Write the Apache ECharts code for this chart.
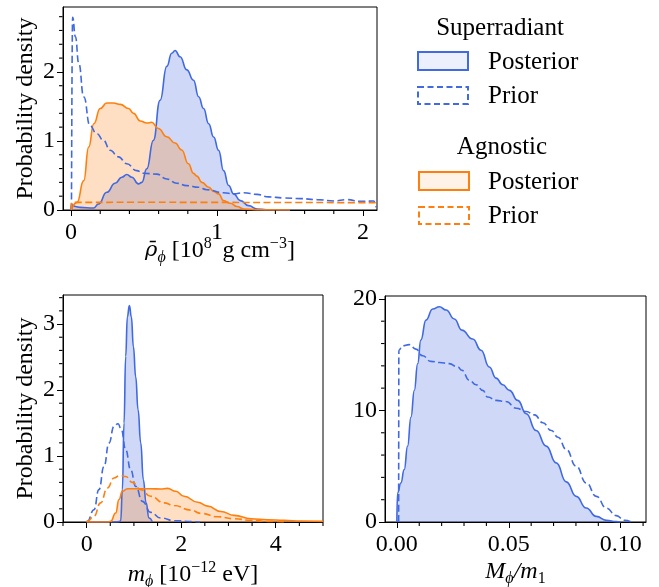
<!DOCTYPE html>
<html><head><meta charset="utf-8">
<script src="https://cdn.jsdelivr.net/npm/echarts@6/dist/echarts.min.js"></script>
<style>html,body{margin:0;padding:0;background:#fff}#c{width:659px;height:587px}</style>
</head><body><div id="c"></div>
<script>
// ---------- data ----------
// Panel 1: rho_phi [1e8 g/cm^3]
const rhoSuperPosterior = [[0.0,0.0],[0.002,0.077],[0.03,0.05],[0.063,0.038],[0.154,0.028],[0.188,0.086],[0.245,0.256],[0.302,0.387],[0.348,0.475],[0.382,0.514],[0.417,0.475],[0.462,0.378],[0.485,0.40],[0.519,0.597],[0.564,1.009],[0.61,1.59],[0.656,2.08],[0.69,2.27],[0.713,2.31],[0.747,2.22],[0.793,2.03],[0.839,1.88],[0.874,1.64],[0.908,1.47],[0.943,1.25],[0.977,1.057],[1.011,0.863],[1.045,0.57],[1.08,0.355],[1.114,0.233],[1.16,0.136],[1.217,0.063],[1.274,0.015],[1.34,0.003],[1.5,0.0]];
const rhoSuperPrior = [[0.003,0.0],[0.011,2.79],[0.03,2.51],[0.053,2.125],[0.087,1.64],[0.13,1.22],[0.176,1.106],[0.222,1.01],[0.268,0.865],[0.325,0.77],[0.382,0.67],[0.45,0.57],[0.496,0.533],[0.587,0.52],[0.656,0.45],[0.724,0.388],[0.793,0.353],[0.873,0.329],[0.931,0.293],[1.045,0.25],[1.114,0.235],[1.183,0.25],[1.274,0.226],[1.354,0.19],[1.457,0.175],[1.571,0.165],[1.685,0.15],[1.8,0.13],[1.89,0.15],[1.982,0.126],[2.073,0.13],[2.09,0.04]];
const rhoAgnPosterior = [[0.002,0.0],[0.041,0.11],[0.087,0.425],[0.121,0.91],[0.156,1.25],[0.2,1.47],[0.245,1.55],[0.291,1.55],[0.337,1.53],[0.394,1.47],[0.428,1.40],[0.474,1.29],[0.519,1.26],[0.553,1.27],[0.598,1.18],[0.656,1.06],[0.713,0.97],[0.758,0.87],[0.804,0.67],[0.839,0.53],[0.862,0.49],[0.897,0.40],[0.943,0.33],[0.977,0.27],[1.011,0.233],[1.045,0.136],[1.091,0.097],[1.137,0.05],[1.183,0.015],[1.27,0.002],[1.5,0.0]];
const rhoAgnPrior = [[0.002,0.0],[0.005,0.11],[0.5,0.112],[1.0,0.11],[1.5,0.108],[2.09,0.106]];

// Panel 2: m_phi [1e-12 eV]
const mSuperPosterior = [[0.0,0.0],[0.6,0.0],[0.69,0.005],[0.72,0.02],[0.756,0.49],[0.791,1.5],[0.826,2.51],[0.862,3.11],[0.904,3.28],[0.946,3.11],[0.989,2.66],[1.038,2.2],[1.088,1.7],[1.144,1.2],[1.2,0.64],[1.257,0.29],[1.32,0.06],[1.39,0.0]];
const mSuperPrior = [[0.0,0.0],[0.014,0.01],[0.155,0.186],[0.26,0.49],[0.367,0.84],[0.473,1.196],[0.579,1.45],[0.664,1.49],[0.734,1.40],[0.826,1.095],[0.932,0.79],[1.038,0.54],[1.18,0.313],[1.356,0.146],[1.568,0.06],[1.85,0.02],[2.28,0.005],[2.4,0.0]];
const mAgnPosterior = [[0.0,0.0],[0.45,0.0],[0.508,0.01],[0.614,0.136],[0.685,0.34],[0.756,0.465],[0.862,0.505],[1.144,0.505],[1.356,0.505],[1.568,0.5],[1.71,0.51],[1.885,0.465],[2.06,0.39],[2.35,0.30],[2.56,0.24],[2.84,0.16],[3.12,0.10],[3.48,0.05],[3.83,0.035],[4.18,0.025],[4.54,0.015],[5.0,0.01]];
const mAgnPrior = [[0.0,0.0],[0.014,0.01],[0.155,0.086],[0.296,0.29],[0.438,0.515],[0.579,0.667],[0.706,0.707],[0.826,0.69],[0.967,0.6],[1.144,0.49],[1.356,0.39],[1.638,0.29],[1.85,0.25],[2.2,0.18],[2.42,0.13],[2.77,0.08],[3.12,0.05],[3.48,0.025],[3.83,0.01],[4.2,0.0]];

// Panel 3: M_phi / m_1
const ratioSuperPosterior = [[0.0,0.0],[0.0003,2.6],[0.0018,3.5],[0.0033,4.7],[0.0048,6.8],[0.0063,9.4],[0.0078,11.8],[0.0093,14.2],[0.0107,16.3],[0.013,18.1],[0.016,19.1],[0.019,19.3],[0.022,19.0],[0.0257,18.2],[0.029,17.2],[0.0339,16.4],[0.0376,15.4],[0.0413,13.9],[0.0443,12.9],[0.0473,12.3],[0.0503,11.8],[0.054,10.9],[0.0578,9.7],[0.0622,8.2],[0.0667,6.8],[0.0712,5.3],[0.0757,3.6],[0.0801,2.3],[0.0846,1.25],[0.0891,0.5],[0.0936,0.15],[0.098,0.03],[0.1,0.0]];
const ratioSuperPrior = [[0.0008,0.0],[0.0009,15.4],[0.0025,15.8],[0.0055,15.9],[0.0085,15.5],[0.0115,14.9],[0.0152,14.4],[0.019,14.3],[0.0234,14.2],[0.0272,13.9],[0.029,13.6],[0.0324,12.7],[0.0354,12.3],[0.0384,11.8],[0.0406,11.2],[0.0443,10.9],[0.0488,10.8],[0.0533,10.2],[0.0578,9.9],[0.0615,9.6],[0.0652,8.9],[0.069,8.2],[0.072,7.6],[0.0757,6.5],[0.0801,5.0],[0.0846,3.5],[0.0891,2.3],[0.0936,1.25],[0.098,0.57],[0.1018,0.15],[0.1048,0.0]];

// Tick values (labelled majors, unlabelled minors)
const rhoXMajor = [0,1,2];
const rhoXMinor = [0.2,0.4,0.6,0.8,1.2,1.4,1.6,1.8];
const rhoYMajor = [0,1,2];
const rhoYMinor = [0.2,0.4,0.6,0.8,1.2,1.4,1.6,1.8,2.2,2.4,2.6,2.8];
const mXMajor = [0,2,4];
const mXMinor = [-0.5,0.5,1,1.5,2.5,3,3.5,4.5,5];
const mYMajor = [0,1,2,3];
const mYMinor = [0.2,0.4,0.6,0.8,1.2,1.4,1.6,1.8,2.2,2.4,2.6,2.8,3.2,3.4];
const ratioXMajor = [0,0.05,0.1];
const ratioXMinor = [0.01,0.02,0.03,0.04,0.06,0.07,0.08,0.09,0.11];
const ratioYMajor = [0,10,20];
const ratioYMinor = [2,4,6,8,12,14,16,18];

// Axis ranges
const rhoXRange = [-0.055, 2.096], rhoYRange = [0, 2.94];
const mXRange = [-0.5, 5], mYRange = [0, 3.44];
const ratioXRange = [-0.0053, 0.1113], ratioYRange = [0, 20.26];

// ---------- styling ----------
const F = 'Liberation Serif';
const BLUE = '#4169e1', ORANGE = '#ff7f0e';
const FS = 24;
const richDef = {
  it: {fontFamily:F, fontStyle:'italic', fontSize:FS, color:'#000', lineHeight:30},
  rho: {fontFamily:'DejaVu Serif', fontStyle:'italic', fontSize:21, color:'#000', lineHeight:30},
  sub: {fontFamily:F, fontStyle:'italic', fontSize:16, color:'#000', lineHeight:16, verticalAlign:'bottom'},
  subr: {fontFamily:F, fontSize:16, color:'#000', lineHeight:16, verticalAlign:'bottom'},
  sup: {fontFamily:F, fontSize:16, color:'#000', lineHeight:16, verticalAlign:'top'}
};
const nameStyle = {fontFamily:F, fontSize:FS, color:'#000', lineHeight:30, rich:richDef};

const GRIDS = [
  {left:63, top:7, width:314, height:203},
  {left:63, top:295, width:260, height:227},
  {left:385, top:296, width:261, height:226}
];

function mainX(grid, range, majors, fmt, name, gap) {
  return {type:'value', gridIndex:grid, min:range[0], max:range[1], position:'bottom',
    axisLine:{show:true, onZero:false, lineStyle:{color:'#000', width:1}},
    axisTick:{show:true, inside:false, length:6, lineStyle:{color:'#000', width:1}, customValues:majors},
    axisLabel:{show:true, customValues:majors, formatter:fmt, color:'#000', fontFamily:F, fontSize:FS, margin:11},
    splitLine:{show:false},
    name:name, nameLocation:'middle', nameGap:gap, nameTextStyle:nameStyle, nameMoveOverlap:false};
}
function mainY(grid, range, majors, name, gap) {
  return {type:'value', gridIndex:grid, min:range[0], max:range[1], position:'left',
    axisLine:{show:true, onZero:false, lineStyle:{color:'#000', width:1}},
    axisTick:{show:true, inside:false, length:6, lineStyle:{color:'#000', width:1}, customValues:majors},
    axisLabel:{show:true, customValues:majors, formatter:v=>String(Math.round(v)), color:'#000', fontFamily:F, fontSize:FS, margin:8},
    splitLine:{show:false},
    name:name, nameLocation:'middle', nameGap:gap, nameTextStyle:nameStyle, nameMoveOverlap:false};
}
function curve(ai, data, color, dashed, fill) {
  const s = {type:'line', xAxisIndex:ai, yAxisIndex:ai, data:data, symbol:'none', showSymbol:false,
    smooth:0.5, smoothMonotone:'x', silent:true,
    lineStyle:{color:color, width:1.6, type: dashed ? [7,3.5] : 'solid'}};
  if (fill) s.areaStyle = {color:color, opacity:0.25, origin:'start'};
  return s;
}
// minor tick marks, placed through the axes' own scales just outside the frame
function minorTicksX(ai, minors, yRange) {
  return {type:'scatter', xAxisIndex:ai, yAxisIndex:ai, data:minors.map(v=>[v, yRange[0]]),
    symbol:'rect', symbolSize:[1.1,3.5], symbolOffset:[0,2.2], clip:false, silent:true, z:5,
    itemStyle:{color:'#000', opacity:1}};
}
function minorTicksY(ai, minors, xRange) {
  return {type:'scatter', xAxisIndex:ai, yAxisIndex:ai, data:minors.map(v=>[xRange[0], v]),
    symbol:'rect', symbolSize:[3.5,1.1], symbolOffset:[-2.2,0], clip:false, silent:true, z:5,
    itemStyle:{color:'#000', opacity:1}};
}

const grids = GRIDS.map(g => Object.assign({}, g, {show:true, borderColor:'#000', borderWidth:1, backgroundColor:'transparent', containLabel:false, outerBoundsMode:'none'}));

const fmtInt = v => String(Math.round(v));
const fmt2 = v => v.toFixed(2);

const option = {
  backgroundColor:'#fff',
  animation:false,
  grid: grids,
  xAxis: [
    mainX(0, rhoXRange, rhoXMajor, fmtInt, '{rho|ρ̄}{sub|ϕ} [10{sup|8}\u2009 g cm{sup|−3}]', 26),
    mainX(1, mXRange, mXMajor, fmtInt, '{it|m}{sub|ϕ} [10{sup|−12} eV]', 38),
    mainX(2, ratioXRange, ratioXMajor, fmt2, '{it|M}{sub|ϕ}{it|/m}{subr|1}', 35)
  ],
  yAxis: [
    mainY(0, rhoYRange, rhoYMajor, 'Probability density', 22),
    mainY(1, mYRange, mYMajor, 'Probability density', 22),
    mainY(2, ratioYRange, ratioYMajor, '', 30)
  ],
  series: [
    curve(0,rhoSuperPosterior,BLUE,false,true),
    curve(0,rhoAgnPosterior,ORANGE,false,true),
    curve(0,rhoSuperPrior,BLUE,true,false),
    curve(0,rhoAgnPrior,ORANGE,true,false),
    curve(1,mSuperPosterior,BLUE,false,true),
    curve(1,mAgnPosterior,ORANGE,false,true),
    curve(1,mSuperPrior,BLUE,true,false),
    curve(1,mAgnPrior,ORANGE,true,false),
    curve(2,ratioSuperPosterior,BLUE,false,true),
    curve(2,ratioSuperPrior,BLUE,true,false),
    minorTicksX(0, rhoXMinor, rhoYRange),
    minorTicksY(0, rhoYMinor, rhoXRange),
    minorTicksX(1, mXMinor, mYRange),
    minorTicksY(1, mYMinor, mXRange),
    minorTicksX(2, ratioXMinor, ratioYRange),
    minorTicksY(2, ratioYMinor, ratioXRange)
  ],
  graphic: [
    {type:'text', x:500, y:28, style:{text:'Superradiant', font:'25px "Liberation Serif"', fill:'#000', align:'center', verticalAlign:'middle'}},
    {type:'rect', x:418, y:52, shape:{x:0,y:0,width:50,height:18}, style:{fill:'rgba(65,105,225,0.1)', stroke:BLUE, lineWidth:2}},
    {type:'text', x:488, y:62, style:{text:'Posterior', font:'25px "Liberation Serif"', fill:'#000', align:'left', verticalAlign:'middle'}},
    {type:'rect', x:418, y:87, shape:{x:0,y:0,width:50,height:17}, style:{fill:'none', stroke:BLUE, lineWidth:2, lineDash:[6,3.5]}},
    {type:'text', x:488, y:96, style:{text:'Prior', font:'25px "Liberation Serif"', fill:'#000', align:'left', verticalAlign:'middle'}},
    {type:'text', x:502, y:147, style:{text:'Agnostic', font:'25px "Liberation Serif"', fill:'#000', align:'center', verticalAlign:'middle'}},
    {type:'rect', x:419, y:172, shape:{x:0,y:0,width:50,height:18}, style:{fill:'rgba(255,127,14,0.1)', stroke:ORANGE, lineWidth:2}},
    {type:'text', x:488, y:182, style:{text:'Posterior', font:'25px "Liberation Serif"', fill:'#000', align:'left', verticalAlign:'middle'}},
    {type:'rect', x:419, y:207, shape:{x:0,y:0,width:50,height:17}, style:{fill:'none', stroke:ORANGE, lineWidth:2, lineDash:[6,3.5]}},
    {type:'text', x:488, y:216, style:{text:'Prior', font:'25px "Liberation Serif"', fill:'#000', align:'left', verticalAlign:'middle'}}
  ]
};
const chart = echarts.init(document.getElementById('c'), null, {renderer:'canvas'});
chart.setOption(option);
</script></body></html>
